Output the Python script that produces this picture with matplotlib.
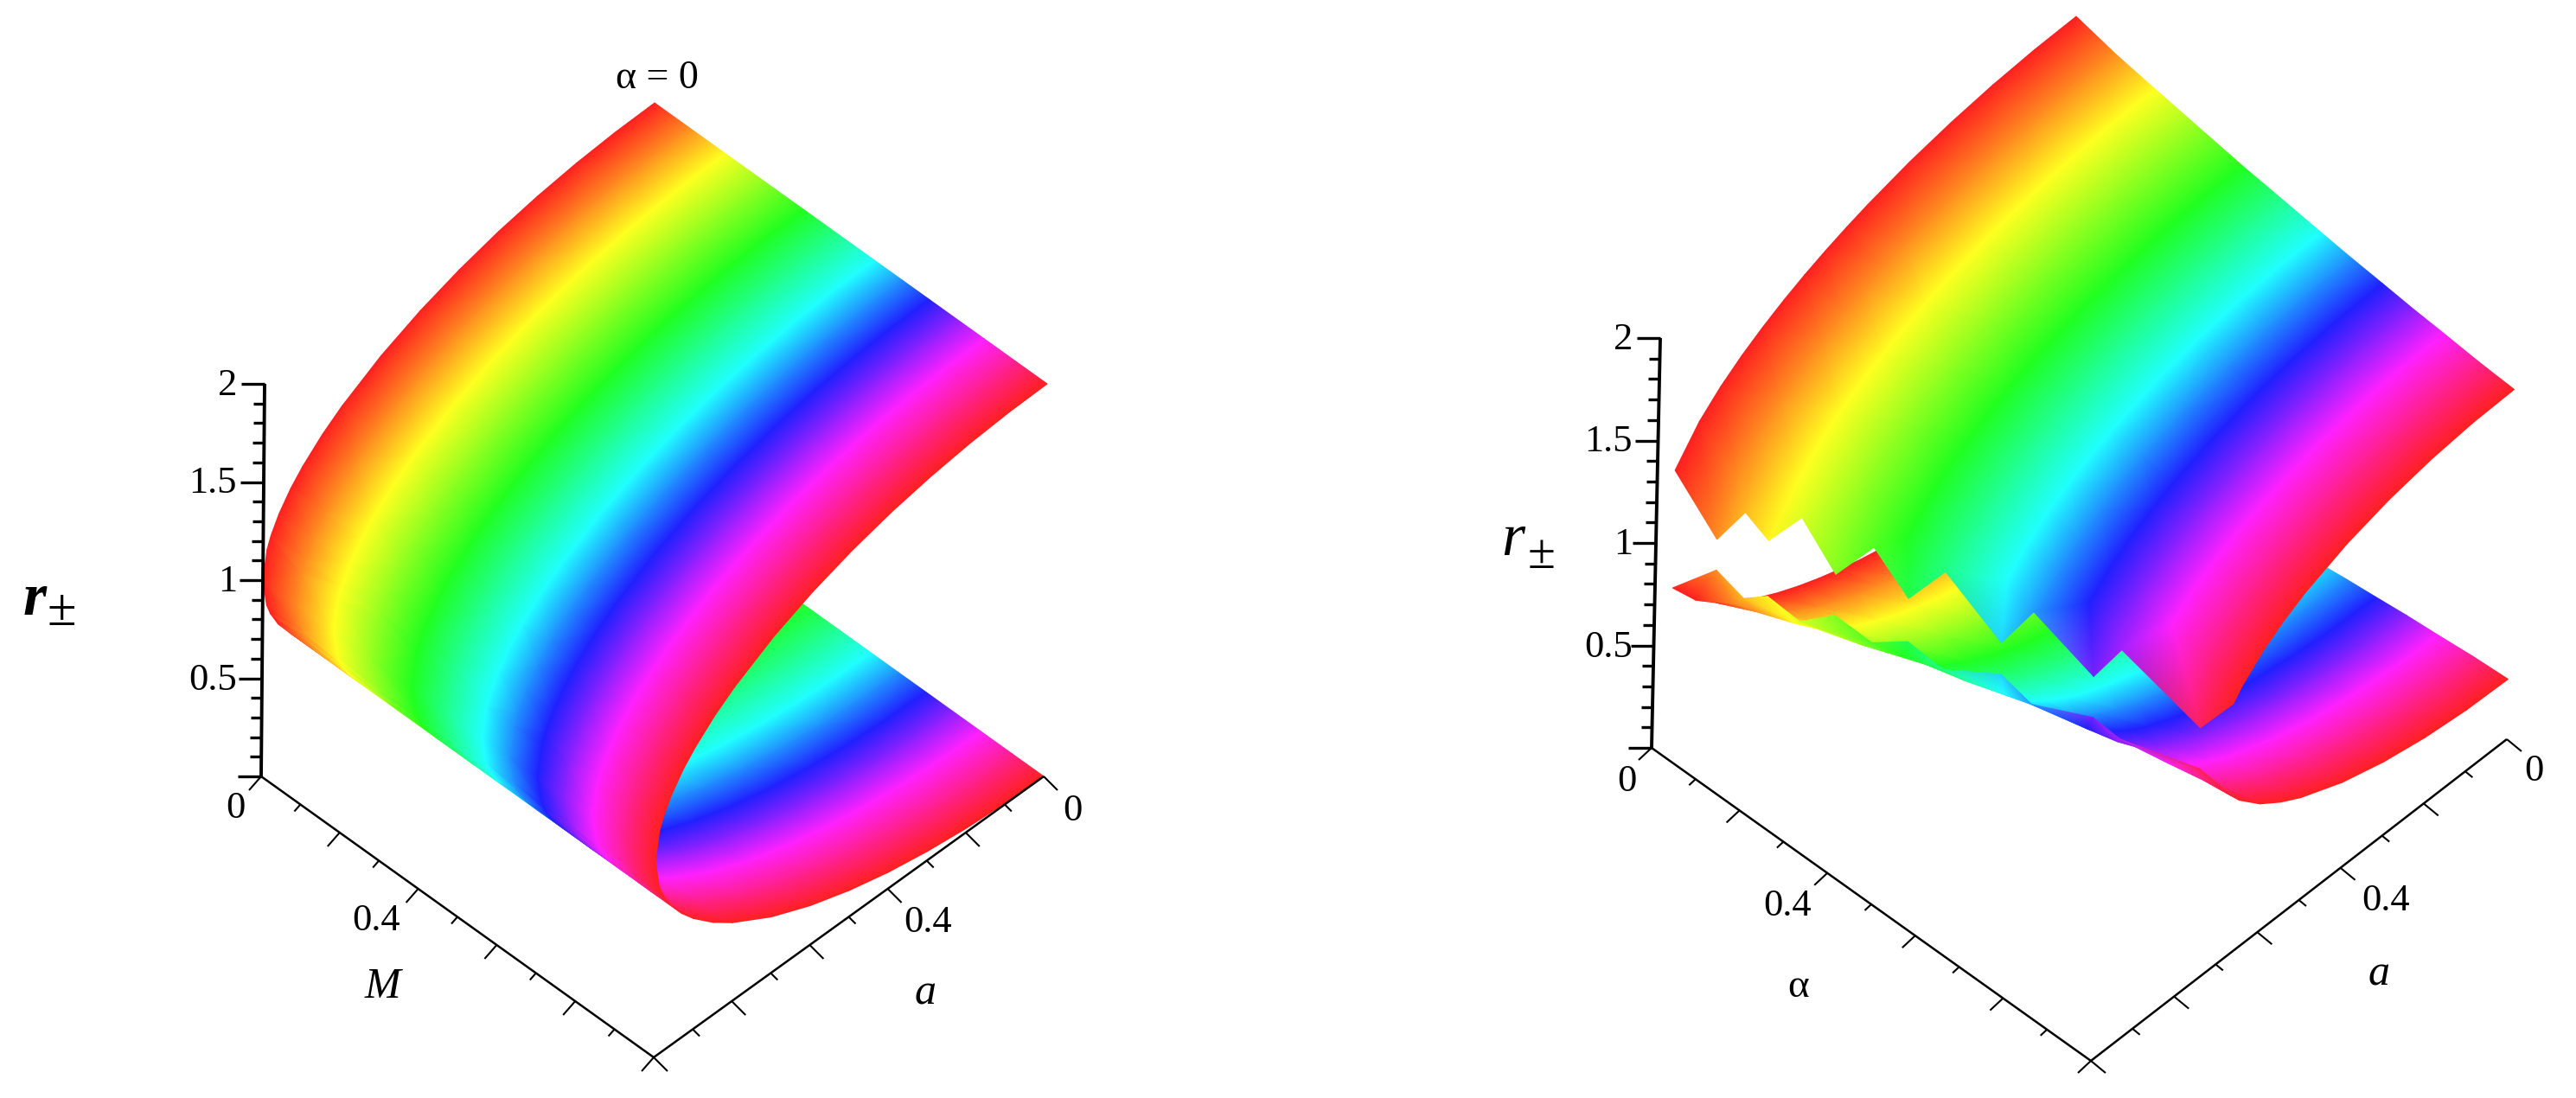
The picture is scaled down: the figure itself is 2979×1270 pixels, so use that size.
import numpy as np
import matplotlib
matplotlib.use('Agg')
import matplotlib.pyplot as plt
import matplotlib.tri as mtri
from matplotlib.colors import LinearSegmentedColormap
from matplotlib.path import Path

nan = float('nan')

# hue runs along the first horizontal axis of each panel
hue_stops = [0, 0.18, 0.38, 0.56, 0.70, 0.84, 1]
hue_colors = ['#ff2020', '#ffff20', '#20ff20', '#20ffff', '#2020ff', '#ff20ff', '#ff2020']

# rows along M / alpha
rows = [0, 0.09, 0.18, 0.28, 0.38, 0.47, 0.56, 0.63, 0.70, 0.77, 0.84, 0.92, 1]

# left panel: r does not change with M, r = 1 +- gap
left_a = [0, 0.1, 0.2, 0.3, 0.4, 0.5, 0.6, 0.7, 0.8, 0.85, 0.9, 0.93, 0.96, 0.98, 0.99, 1]
left_gap = [1, 0.995, 0.98, 0.954, 0.917, 0.866, 0.8, 0.714, 0.6, 0.527, 0.436, 0.368, 0.28, 0.199, 0.141, 0]

# right panel: gap read per row (alpha) and column (a)
right_a = [0, 0.1, 0.2, 0.3, 0.4, 0.5, 0.55, 0.6, 0.65, 0.7, 0.75, 0.8, 0.85, 0.9]
right_gap = [
    [1, .995, .98, .954, .917, .866, .835, .8, .76, .714, .661, .6, .527, .436],
    [.954, .949, .933, .906, .866, .812, .779, .742, .698, .648, .589, .52, .433, .316],
    [.921, .915, .899, .871, .829, .773, .739, .699, .652, .598, .534, .456, .354, nan],
    [.886, .88, .863, .834, .791, .731, .695, .652, .602, .543, .472, .381, .25, nan],
    [.851, .846, .828, .797, .752, .689, .65, .604, .55, .485, .403, .292, nan, nan],
    [.826, .82, .801, .769, .722, .657, .616, .567, .509, .438, .346, nan, nan, nan],
    [.8, .794, .775, .742, .693, .624, .581, .529, .466, .387, .278, nan, nan, nan],
    [.781, .775, .755, .721, .671, .6, .555, .5, .433, .346, nan, nan, nan, nan],
    [.765, .758, .738, .704, .652, .579, .532, .474, .403, .308, nan, nan, nan, nan],
    [.748, .742, .721, .686, .632, .557, .507, .447, .371, .265, nan, nan, nan, nan],
    [.735, .728, .707, .671, .616, .539, .487, .424, .343, nan, nan, nan, nan, nan],
    [.718, .711, .689, .652, .596, .515, .461, .394, .304, nan, nan, nan, nan, nan],
    [.707, .7, .678, .64, .583, .5, .444, .374, .278, nan, nan, nan, nan, nan],
]

# jagged end of the right surface
edge_alpha = [0, .09, .124, .172, .2125, .292, .337, .417, .461, .586, .623, .754, .783, .959, 1]
edge_a = [.957, .949, .918, .912, .876, .877, .834, .834, .793, .789, .752, .745, .709, .705, .67]
edge_gap = [.287, .075, .21, .136, .254, .1, .233, .105, .239, .077, .226, .1, .218, .1, .225]

z_ticks = [0, 0.5, 1, 1.5, 2]
z_labels = ['', '0.5', '1', '1.5', '2']

cmap = LinearSegmentedColormap.from_list('maple', list(zip(hue_stops, hue_colors)), N=2048)
SERIF = 'Liberation Serif'


class Panel:
    def __init__(self, ax, back, u_vec, a_vec, z_vec):
        self.ax = ax
        self.back = np.array(back, dtype=float)
        self.u_vec = np.array(u_vec, dtype=float)
        self.a_vec = np.array(a_vec, dtype=float)
        self.z_vec = np.array(z_vec, dtype=float)

    def project(self, u, a, z):
        u, a, z = np.asarray(u, float), np.asarray(a, float), np.asarray(z, float)
        x = self.back[0] + u*self.u_vec[0] + a*self.a_vec[0] + z*self.z_vec[0]
        y = self.back[1] + u*self.u_vec[1] + a*self.a_vec[1] + z*self.z_vec[1]
        return x, y

    def sheet(self, u, a, z, triangles):
        # far triangles first, so the folded part lands on top
        depth = (u + a + 0.67*z)[triangles].mean(axis=1)
        tris = triangles[np.argsort(depth)]
        x, y = self.project(u, a, z)
        self.ax.tripcolor(mtri.Triangulation(x, y, tris), u, shading='gouraud',
                          cmap=cmap, vmin=0, vmax=1)

    def line(self, x, y, lw=1.8):
        self.ax.plot(x, y, color='k', lw=lw, solid_capstyle='butt')

    def axes3d(self, u_name, u_off, a_off, u_tick_off, a_tick_off, u_zero_off, a_zero_off,
               z_right, name_u_pos, name_a_pos):
        ax = self.ax
        # z axis
        x, y = self.project([0, 0], [1, 1], [0, 2])
        self.line(x, y, 2.8)
        for i in range(21):
            z = i/10
            x, y = self.project(0, 1, z)
            major = i % 5 == 0
            self.line([x-(27 if major else 13), x], [y, y], 2.4)
        for z, lab in zip(z_ticks, z_labels):
            x, y = self.project(0, 1, z)
            ax.text(z_right, y+2, lab, family=SERIF, size=32, ha='right', va='center')

        # the two floor axes
        x, y = self.project([0, 1], [1, 1], [0, 0])
        self.line(x, y)
        x, y = self.project([1, 1], [0, 1], [0, 0])
        self.line(x, y)
        for i in range(11):
            k = 1.0 if i % 2 == 0 else 0.5
            x, y = self.project(i/10, 1, 0)
            self.line([x, x+u_off[0]*k], [y, y+u_off[1]*k], 1.5)
            x, y = self.project(1, i/10, 0)
            self.line([x, x+a_off[0]*k], [y, y+a_off[1]*k], 1.5)

        x, y = self.project(0, 1, 0)
        ax.text(x+u_zero_off[0], y+u_zero_off[1], '0', family=SERIF, size=32, ha='center', va='center')
        x, y = self.project(0.4, 1, 0)
        ax.text(x+u_tick_off[0], y+u_tick_off[1], '0.4', family=SERIF, size=32, ha='center', va='center')
        x, y = self.project(1, 0, 0)
        ax.text(x+a_zero_off[0], y+a_zero_off[1], '0', family=SERIF, size=32, ha='center', va='center')
        x, y = self.project(1, 0.4, 0)
        ax.text(x+a_tick_off[0], y+a_tick_off[1], '0.4', family=SERIF, size=32, ha='center', va='center')

        ax.text(*name_u_pos, u_name[0], family=SERIF, size=u_name[1], style=u_name[2], ha='center', va='center')
        ax.text(*name_a_pos, 'a', family=SERIF, size=36, style='italic', ha='center', va='center')


fig = plt.figure(figsize=(29.79, 12.70), dpi=100)
ax = fig.add_axes([0, 0, 1, 1])
ax.set_xlim(0, 2979)
ax.set_ylim(1270, 0)
ax.axis('off')

# ---- left panel
left = Panel(ax, (753, 573), (454, 325), (-451, 325), (2, -227))
uu, aa = np.meshgrid(rows, left_a, indexing='ij')
gg = np.tile(np.array(left_gap), (len(rows), 1))
uu, aa, gg = uu.ravel(), aa.ravel(), gg.ravel()
tris = mtri.Triangulation(uu, aa).triangles
left.sheet(uu, aa, 1 - gg, tris)
left.sheet(uu, aa, 1 + gg, tris)
left.axes3d(('M', 36, 'italic'), (-14, 16), (16, 16), (-49, 37), (46, 39), (-30, 37), (33, 40),
            274, (442, 1142), (1070, 1149))
ax.text(760, 91, 'α = 0', family=SERIF, size=33, ha='center', va='center')
ax.text(40, 694, 'r', family=SERIF, size=50, weight='bold', style='italic', ha='center', va='center')
ax.text(71, 708, '±', family=SERIF, size=44, ha='center', va='center')

# ---- right panel
right = Panel(ax, (2391, 493), (508, 362), (-481, 372), (5, -237))
gap = np.array(right_gap)
uu, aa = np.meshgrid(rows, right_a, indexing='ij')
keep = np.isfinite(gap)
u_nodes = np.concatenate([uu[keep], edge_alpha])
a_nodes = np.concatenate([aa[keep], edge_a])
g_nodes = np.concatenate([gap[keep], edge_gap])

tri = mtri.Triangulation(u_nodes, a_nodes)
domain = Path(list(zip([0, 1] + edge_alpha[::-1], [0, 0] + edge_a[::-1])))
cent = np.column_stack([u_nodes[tri.triangles].mean(axis=1), a_nodes[tri.triangles].mean(axis=1)])
tris = tri.triangles[domain.contains_points(cent)]
right.sheet(u_nodes, a_nodes, 1 - g_nodes, tris)
right.sheet(u_nodes, a_nodes, 1 + g_nodes, tris)
right.axes3d(('α', 34, 'normal'), (-15, 14), (17, 14), (-46, 38), (52, 38), (-29, 39), (31, 37),
             1888, (2080, 1142), (2751, 1127))
ax.text(1750, 625, 'r', family=SERIF, size=50, style='italic', ha='center', va='center')
ax.text(1783, 643, '±', family=SERIF, size=42, ha='center', va='center')

fig.savefig('out.png', dpi=100)
